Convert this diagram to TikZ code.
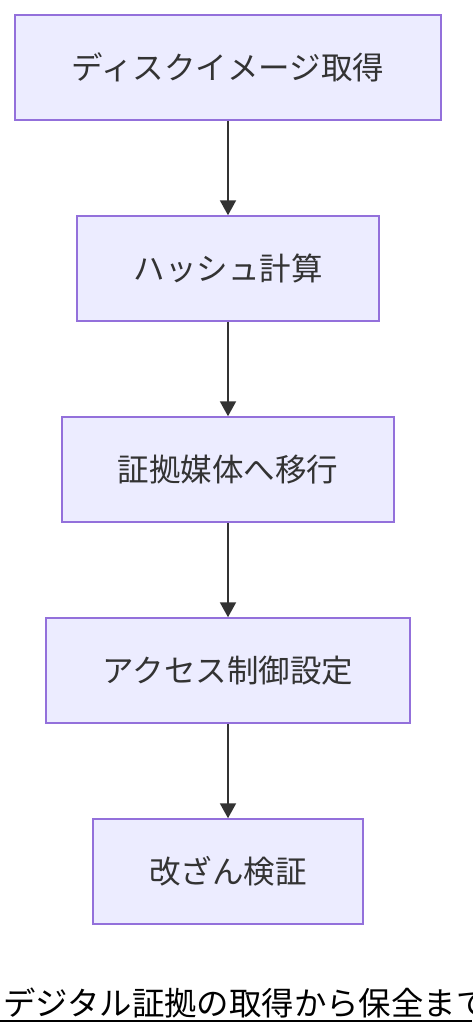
\documentclass[tikz,border=0pt]{standalone}
\usepackage{fontspec}
\setmainfont{Noto Sans CJK JP}
\usetikzlibrary{arrows.meta}
\definecolor{boxfill}{HTML}{ECECFF}
\definecolor{boxline}{HTML}{9370DB}
\definecolor{ink}{HTML}{333333}
\begin{document}
\begin{tikzpicture}[x=1pt,y=-1pt,
  stepbox/.style={draw=boxline, fill=boxfill, line width=1.5pt, rectangle,
    inner sep=0pt, minimum height=105pt, text=ink,
    font=\fontsize{31.5}{36}\selectfont},
  flow/.style={draw=ink, line width=2pt, -{Triangle[width=16pt,length=15pt]}}]
\useasboundingbox (0,0) rectangle (472,1036);
\fill[white] (0,0) rectangle (472,1036);
\node[stepbox, minimum width=426pt] (a) at (228,67.5) {ディスクイメージ取得};
\node[stepbox, minimum width=302pt] (b) at (228,268.5) {ハッシュ計算};
\node[stepbox, minimum width=332pt] (c) at (228,469.5) {証拠媒体へ移行};
\node[stepbox, minimum width=364pt] (d) at (228,670.5) {アクセス制御設定};
\node[stepbox, minimum width=270pt] (e) at (228,871.5) {改ざん検証};
\draw[flow] (a) -- (b);
\draw[flow] (b) -- (c);
\draw[flow] (c) -- (d);
\draw[flow] (d) -- (e);
\begin{scope}
\clip (0,0) rectangle (472,1036);
\node[anchor=base west, inner sep=0pt, font=\fontsize{32.4}{36}\selectfont] (title) at (3,1015) {デジタル証拠の取得から保全まで};
\end{scope}
\coordinate (ul) at (0,1021);
\coordinate (ur) at (472,1021);
\draw[line width=2pt] (ul) -- (ur);
\end{tikzpicture}
\end{document}
